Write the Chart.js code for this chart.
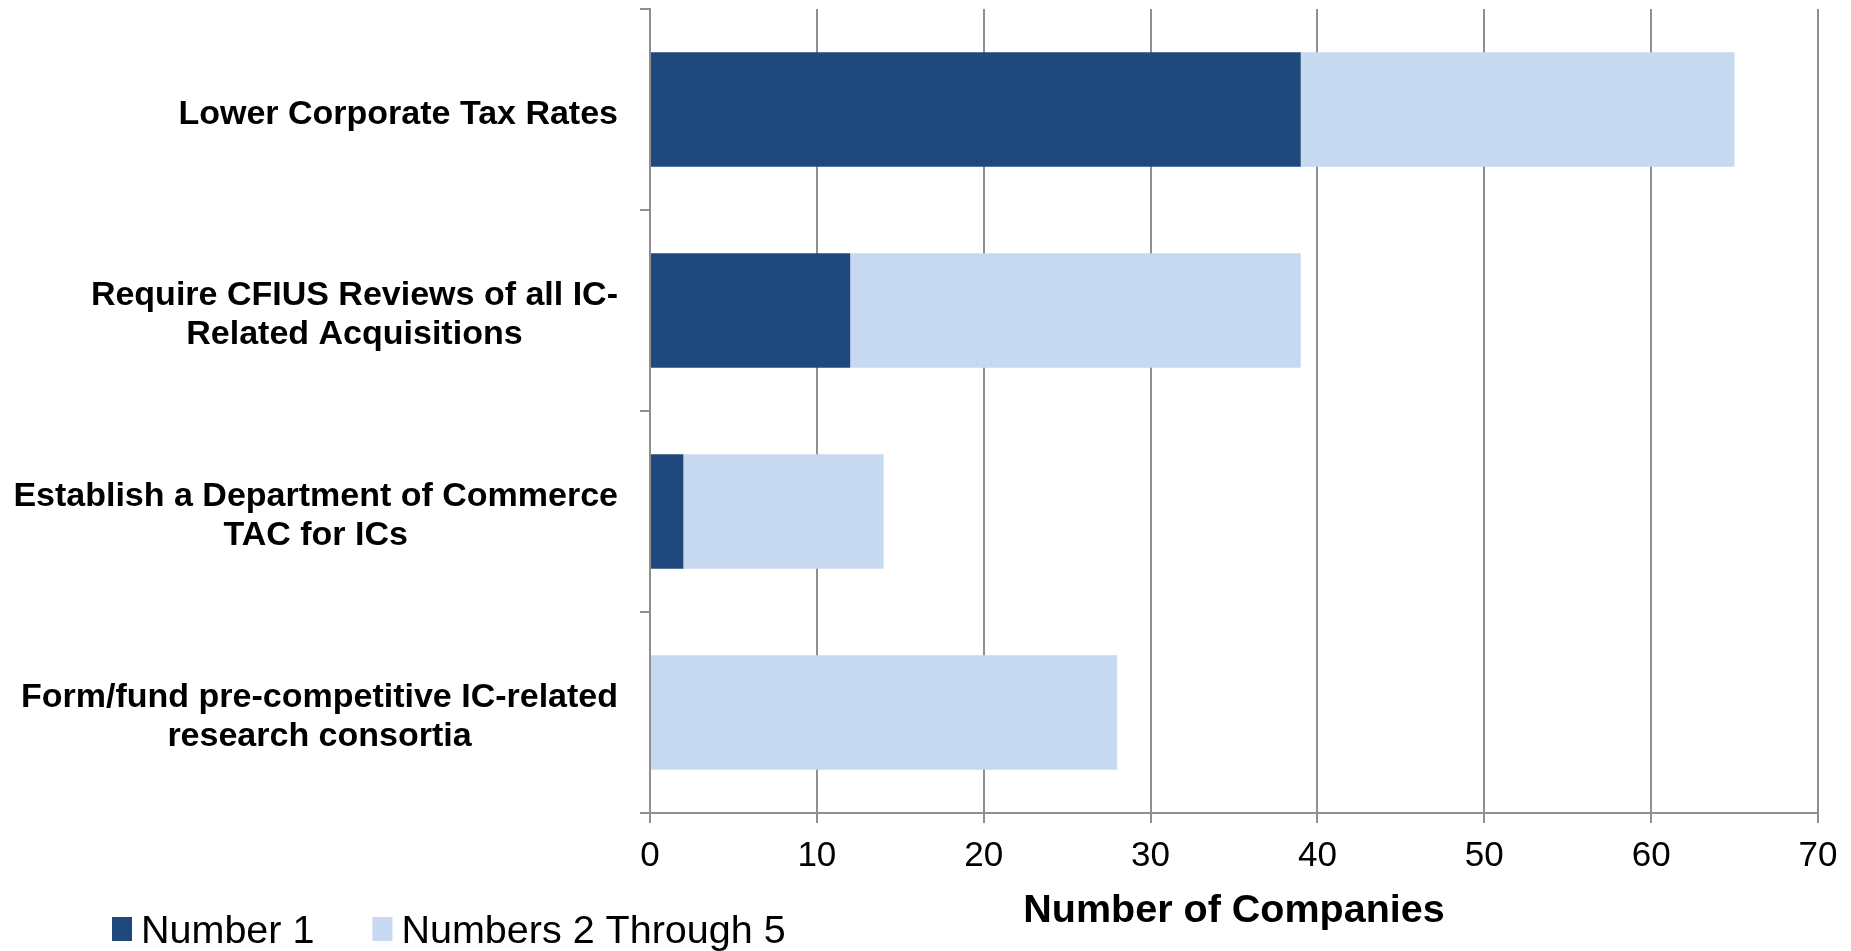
<!DOCTYPE html>
<html>
<head>
<meta charset="utf-8">
<script src="https://cdn.jsdelivr.net/npm/chart.js@4.4.1/dist/chart.umd.min.js"></script>
<style>
html,body{margin:0;padding:0;background:#fff;}
#wrap{width:1851px;height:951px;}
</style>
</head>
<body>
<div id="wrap"><canvas id="c" width="1851" height="951"></canvas></div>
<script>
const categories = [
  ["Lower Corporate Tax Rates"],
  ["Require CFIUS Reviews of all IC-", "Related Acquisitions"],
  ["Establish a Department of Commerce", "TAC for ICs"],
  ["Form/fund pre-competitive IC-related", "research consortia"]
];
const number1 = [39, 12, 2, 0];
const numbers2to5 = [26, 27, 12, 28];
const seriesNames = ["Number 1", "Numbers 2 Through 5"];
const seriesColors = ["#1F497D", "#C6D9F1"];
const xMin = 0, xMax = 70, xStep = 10;
const axisTitle = "Number of Companies";

const FONT = "'Liberation Sans', Arial, Helvetica, sans-serif";
const GRID = "#8f8f8f";

const yLabelPlugin = {
  id: 'yLabels',
  afterDraw(chart) {
    const ctx = chart.ctx;
    const ys = chart.scales.y;
    ctx.save();
    ctx.font = "bold 34px " + FONT;
    ctx.fillStyle = "#000";
    ctx.textAlign = "center";
    ctx.textBaseline = "middle";
    const rightEdge = ys.right - 32;
    const lh = 39;
    chart.data.labels.forEach((lines, i) => {
      const arr = Array.isArray(lines) ? lines : [lines];
      let w = 0;
      arr.forEach(l => { w = Math.max(w, ctx.measureText(l).width); });
      const cx = rightEdge - w / 2;
      const cy = ys.getPixelForValue(i) + 5;
      const y0 = cy - (arr.length - 1) * lh / 2;
      arr.forEach((l, k) => ctx.fillText(l, cx, y0 + k * lh));
    });
    ctx.restore();
  }
};

const legendPlugin = {
  id: 'customLegend',
  afterDraw(chart) {
    const ctx = chart.ctx;
    ctx.save();
    ctx.font = "39.5px " + FONT;
    ctx.textBaseline = "alphabetic";
    ctx.textAlign = "left";
    let x = 112;
    chart.data.datasets.forEach((ds) => {
      ctx.fillStyle = ds.backgroundColor;
      ctx.fillRect(x, 917, 20, 24);
      ctx.fillStyle = "#000";
      ctx.fillText(ds.label, x + 29, 943);
      x += 29 + ctx.measureText(ds.label).width + 58;
    });
    ctx.restore();
  }
};

new Chart(document.getElementById('c'), {
  type: 'bar',
  data: {
    labels: categories,
    datasets: [
      { label: seriesNames[0], data: number1, backgroundColor: seriesColors[0] },
      { label: seriesNames[1], data: numbers2to5, backgroundColor: seriesColors[1] }
    ]
  },
  options: {
    indexAxis: 'y',
    responsive: false,
    animation: false,
    layout: { padding: { top: 9, right: 33, bottom: 0, left: 0 } },
    datasets: { bar: { categoryPercentage: 1.0, barPercentage: 0.57, borderWidth: 0 } },
    plugins: { legend: { display: false }, tooltip: { enabled: false } },
    scales: {
      x: {
        type: 'linear',
        stacked: true,
        min: xMin, max: xMax,
        ticks: { stepSize: xStep, color: '#000', font: { family: FONT, size: 35 }, padding: 12 },
        grid: { color: GRID, lineWidth: 2, tickLength: 10, drawTicks: true },
        border: { color: GRID, width: 2 },
        title: { display: true, text: axisTitle, color: '#000', font: { family: FONT, size: 39.5, weight: 'bold' }, padding: { top: 0, bottom: 16 } },
        afterFit(scale) { scale.height = 138; }
      },
      y: {
        type: 'category',
        stacked: true,
        ticks: { display: false },
        grid: { offset: true, drawOnChartArea: false, drawTicks: true, tickLength: 10, color: GRID, lineWidth: 2 },
        border: { color: GRID, width: 2 },
        afterFit(scale) { scale.width = 650; }
      }
    }
  },
  plugins: [yLabelPlugin, legendPlugin]
});
</script>
</body>
</html>
